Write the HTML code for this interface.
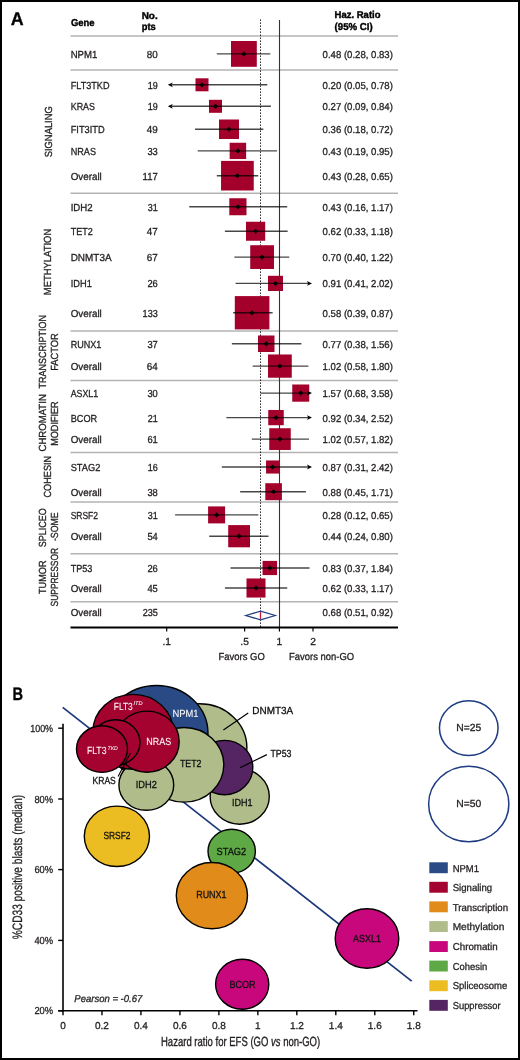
<!DOCTYPE html>
<html><head><meta charset="utf-8"><style>
html,body{margin:0;padding:0;background:#fff;}
body{width:520px;height:1060px;overflow:hidden;}
svg{display:block;font-family:"Liberation Sans", sans-serif;will-change:transform;text-rendering:geometricPrecision;}
</style></head><body>
<svg width="520" height="1060" viewBox="0 0 520 1060">
<rect x="0" y="0" width="520" height="1060" fill="#fff"/>
<text x="10.8" y="25.2" font-size="18.2" text-anchor="start" font-weight="bold" font-style="normal" fill="#000" stroke="#000" stroke-width="0.3" textLength="12.9" lengthAdjust="spacingAndGlyphs">A</text>
<text x="70.9" y="26.4" font-size="10.0" text-anchor="start" font-weight="bold" font-style="normal" fill="#000" stroke="#000" stroke-width="0.4" textLength="23.6" lengthAdjust="spacingAndGlyphs">Gene</text>
<text x="141.7" y="18.6" font-size="10.0" text-anchor="start" font-weight="bold" font-style="normal" fill="#000" stroke="#000" stroke-width="0.4" textLength="16" lengthAdjust="spacingAndGlyphs">No.</text>
<text x="141.7" y="30.1" font-size="10.0" text-anchor="start" font-weight="bold" font-style="normal" fill="#000" stroke="#000" stroke-width="0.4" textLength="14" lengthAdjust="spacingAndGlyphs">pts</text>
<text x="334.6" y="18.4" font-size="10.0" text-anchor="start" font-weight="bold" font-style="normal" fill="#000" stroke="#000" stroke-width="0.4" textLength="45.9" lengthAdjust="spacingAndGlyphs">Haz. Ratio</text>
<text x="334.6" y="29.9" font-size="10.0" text-anchor="start" font-weight="bold" font-style="normal" fill="#000" stroke="#000" stroke-width="0.4" textLength="38" lengthAdjust="spacingAndGlyphs">(95% CI)</text>
<line x1="70.5" y1="36" x2="398" y2="36" stroke="#b3b3b3" stroke-width="1.5"/>
<line x1="70.5" y1="70" x2="398" y2="70" stroke="#b3b3b3" stroke-width="1.5"/>
<line x1="70.5" y1="193.3" x2="398" y2="193.3" stroke="#b3b3b3" stroke-width="1.5"/>
<line x1="70.5" y1="331" x2="398" y2="331" stroke="#b3b3b3" stroke-width="1.5"/>
<line x1="70.5" y1="380.6" x2="398" y2="380.6" stroke="#b3b3b3" stroke-width="1.5"/>
<line x1="70.5" y1="452.4" x2="398" y2="452.4" stroke="#b3b3b3" stroke-width="1.5"/>
<line x1="70.5" y1="501.9" x2="398" y2="501.9" stroke="#b3b3b3" stroke-width="1.5"/>
<line x1="70.5" y1="553.8" x2="398" y2="553.8" stroke="#b3b3b3" stroke-width="1.5"/>
<line x1="70.5" y1="601.7" x2="398" y2="601.7" stroke="#b3b3b3" stroke-width="1.5"/>
<line x1="260.5" y1="19.5" x2="260.5" y2="627" stroke="#000" stroke-width="1" stroke-dasharray="1.3 1.7"/>
<line x1="279.5" y1="20" x2="279.5" y2="627" stroke="#333" stroke-width="1.1"/>
<text x="70.7" y="57.9" font-size="10.2" text-anchor="start" font-weight="normal" font-style="normal" fill="#231f20" stroke="#231f20" stroke-width="0.3" textLength="26.6" lengthAdjust="spacingAndGlyphs">NPM1</text>
<text x="157.8" y="57.9" font-size="10.2" text-anchor="end" font-weight="normal" font-style="normal" fill="#231f20" stroke="#231f20" stroke-width="0.3" textLength="11" lengthAdjust="spacingAndGlyphs">80</text>
<text x="322.6" y="57.9" font-size="10.0" text-anchor="start" font-weight="normal" font-style="normal" fill="#231f20" stroke="#231f20" stroke-width="0.3" textLength="70.3" lengthAdjust="spacingAndGlyphs">0.48 (0.28, 0.83)</text>
<text x="70.7" y="88.8" font-size="10.2" text-anchor="start" font-weight="normal" font-style="normal" fill="#231f20" stroke="#231f20" stroke-width="0.3" textLength="38.8" lengthAdjust="spacingAndGlyphs">FLT3TKD</text>
<text x="157.8" y="88.8" font-size="10.2" text-anchor="end" font-weight="normal" font-style="normal" fill="#231f20" stroke="#231f20" stroke-width="0.3" textLength="10" lengthAdjust="spacingAndGlyphs">19</text>
<text x="322.6" y="88.8" font-size="10.0" text-anchor="start" font-weight="normal" font-style="normal" fill="#231f20" stroke="#231f20" stroke-width="0.3" textLength="70.3" lengthAdjust="spacingAndGlyphs">0.20 (0.05, 0.78)</text>
<text x="70.7" y="110.3" font-size="10.2" text-anchor="start" font-weight="normal" font-style="normal" fill="#231f20" stroke="#231f20" stroke-width="0.3" textLength="24.3" lengthAdjust="spacingAndGlyphs">KRAS</text>
<text x="157.8" y="110.3" font-size="10.2" text-anchor="end" font-weight="normal" font-style="normal" fill="#231f20" stroke="#231f20" stroke-width="0.3" textLength="10" lengthAdjust="spacingAndGlyphs">19</text>
<text x="322.6" y="110.3" font-size="10.0" text-anchor="start" font-weight="normal" font-style="normal" fill="#231f20" stroke="#231f20" stroke-width="0.3" textLength="70.3" lengthAdjust="spacingAndGlyphs">0.27 (0.09, 0.84)</text>
<text x="70.7" y="133.25" font-size="10.2" text-anchor="start" font-weight="normal" font-style="normal" fill="#231f20" stroke="#231f20" stroke-width="0.3" textLength="33.949999999999996" lengthAdjust="spacingAndGlyphs">FIT3ITD</text>
<text x="157.8" y="133.25" font-size="10.2" text-anchor="end" font-weight="normal" font-style="normal" fill="#231f20" stroke="#231f20" stroke-width="0.3" textLength="11" lengthAdjust="spacingAndGlyphs">49</text>
<text x="322.6" y="133.25" font-size="10.0" text-anchor="start" font-weight="normal" font-style="normal" fill="#231f20" stroke="#231f20" stroke-width="0.3" textLength="70.3" lengthAdjust="spacingAndGlyphs">0.36 (0.18, 0.72)</text>
<text x="70.7" y="154.9" font-size="10.2" text-anchor="start" font-weight="normal" font-style="normal" fill="#231f20" stroke="#231f20" stroke-width="0.3" textLength="25.3" lengthAdjust="spacingAndGlyphs">NRAS</text>
<text x="157.8" y="154.9" font-size="10.2" text-anchor="end" font-weight="normal" font-style="normal" fill="#231f20" stroke="#231f20" stroke-width="0.3" textLength="10.4" lengthAdjust="spacingAndGlyphs">33</text>
<text x="322.6" y="154.9" font-size="10.0" text-anchor="start" font-weight="normal" font-style="normal" fill="#231f20" stroke="#231f20" stroke-width="0.3" textLength="70.3" lengthAdjust="spacingAndGlyphs">0.43 (0.19, 0.95)</text>
<text x="70.7" y="179.7" font-size="10.2" text-anchor="start" font-weight="normal" font-style="normal" fill="#231f20" stroke="#231f20" stroke-width="0.3" textLength="31.1" lengthAdjust="spacingAndGlyphs">Overall</text>
<text x="157.8" y="179.7" font-size="10.2" text-anchor="end" font-weight="normal" font-style="normal" fill="#231f20" stroke="#231f20" stroke-width="0.3" textLength="15.2" lengthAdjust="spacingAndGlyphs">117</text>
<text x="322.6" y="179.7" font-size="10.0" text-anchor="start" font-weight="normal" font-style="normal" fill="#231f20" stroke="#231f20" stroke-width="0.3" textLength="70.3" lengthAdjust="spacingAndGlyphs">0.43 (0.28, 0.65)</text>
<text x="70.7" y="210.75" font-size="10.2" text-anchor="start" font-weight="normal" font-style="normal" fill="#231f20" stroke="#231f20" stroke-width="0.3" textLength="22.0" lengthAdjust="spacingAndGlyphs">IDH2</text>
<text x="157.8" y="210.75" font-size="10.2" text-anchor="end" font-weight="normal" font-style="normal" fill="#231f20" stroke="#231f20" stroke-width="0.3" textLength="10" lengthAdjust="spacingAndGlyphs">31</text>
<text x="322.6" y="210.75" font-size="10.0" text-anchor="start" font-weight="normal" font-style="normal" fill="#231f20" stroke="#231f20" stroke-width="0.3" textLength="70.3" lengthAdjust="spacingAndGlyphs">0.43 (0.16, 1.17)</text>
<text x="70.7" y="235.25" font-size="10.2" text-anchor="start" font-weight="normal" font-style="normal" fill="#231f20" stroke="#231f20" stroke-width="0.3" textLength="22.0" lengthAdjust="spacingAndGlyphs">TET2</text>
<text x="157.8" y="235.25" font-size="10.2" text-anchor="end" font-weight="normal" font-style="normal" fill="#231f20" stroke="#231f20" stroke-width="0.3" textLength="11" lengthAdjust="spacingAndGlyphs">47</text>
<text x="322.6" y="235.25" font-size="10.0" text-anchor="start" font-weight="normal" font-style="normal" fill="#231f20" stroke="#231f20" stroke-width="0.3" textLength="70.3" lengthAdjust="spacingAndGlyphs">0.62 (0.33, 1.18)</text>
<text x="70.7" y="261.1" font-size="10.2" text-anchor="start" font-weight="normal" font-style="normal" fill="#231f20" stroke="#231f20" stroke-width="0.3" textLength="40.9" lengthAdjust="spacingAndGlyphs">DNMT3A</text>
<text x="157.8" y="261.1" font-size="10.2" text-anchor="end" font-weight="normal" font-style="normal" fill="#231f20" stroke="#231f20" stroke-width="0.3" textLength="11" lengthAdjust="spacingAndGlyphs">67</text>
<text x="322.6" y="261.1" font-size="10.0" text-anchor="start" font-weight="normal" font-style="normal" fill="#231f20" stroke="#231f20" stroke-width="0.3" textLength="70.3" lengthAdjust="spacingAndGlyphs">0.70 (0.40, 1.22)</text>
<text x="70.7" y="287.4" font-size="10.2" text-anchor="start" font-weight="normal" font-style="normal" fill="#231f20" stroke="#231f20" stroke-width="0.3" textLength="21.1" lengthAdjust="spacingAndGlyphs">IDH1</text>
<text x="157.8" y="287.4" font-size="10.2" text-anchor="end" font-weight="normal" font-style="normal" fill="#231f20" stroke="#231f20" stroke-width="0.3" textLength="10.4" lengthAdjust="spacingAndGlyphs">26</text>
<text x="322.6" y="287.4" font-size="10.0" text-anchor="start" font-weight="normal" font-style="normal" fill="#231f20" stroke="#231f20" stroke-width="0.3" textLength="70.3" lengthAdjust="spacingAndGlyphs">0.91 (0.41, 2.02)</text>
<text x="70.7" y="316.75" font-size="10.2" text-anchor="start" font-weight="normal" font-style="normal" fill="#231f20" stroke="#231f20" stroke-width="0.3" textLength="31.1" lengthAdjust="spacingAndGlyphs">Overall</text>
<text x="157.8" y="316.75" font-size="10.2" text-anchor="end" font-weight="normal" font-style="normal" fill="#231f20" stroke="#231f20" stroke-width="0.3" textLength="15.2" lengthAdjust="spacingAndGlyphs">133</text>
<text x="322.6" y="316.75" font-size="10.0" text-anchor="start" font-weight="normal" font-style="normal" fill="#231f20" stroke="#231f20" stroke-width="0.3" textLength="70.3" lengthAdjust="spacingAndGlyphs">0.58 (0.39, 0.87)</text>
<text x="70.7" y="347.75" font-size="10.2" text-anchor="start" font-weight="normal" font-style="normal" fill="#231f20" stroke="#231f20" stroke-width="0.3" textLength="30.7" lengthAdjust="spacingAndGlyphs">RUNX1</text>
<text x="157.8" y="347.75" font-size="10.2" text-anchor="end" font-weight="normal" font-style="normal" fill="#231f20" stroke="#231f20" stroke-width="0.3" textLength="10.4" lengthAdjust="spacingAndGlyphs">37</text>
<text x="322.6" y="347.75" font-size="10.0" text-anchor="start" font-weight="normal" font-style="normal" fill="#231f20" stroke="#231f20" stroke-width="0.3" textLength="70.3" lengthAdjust="spacingAndGlyphs">0.77 (0.38, 1.56)</text>
<text x="70.7" y="370.1" font-size="10.2" text-anchor="start" font-weight="normal" font-style="normal" fill="#231f20" stroke="#231f20" stroke-width="0.3" textLength="31.1" lengthAdjust="spacingAndGlyphs">Overall</text>
<text x="157.8" y="370.1" font-size="10.2" text-anchor="end" font-weight="normal" font-style="normal" fill="#231f20" stroke="#231f20" stroke-width="0.3" textLength="11" lengthAdjust="spacingAndGlyphs">64</text>
<text x="322.6" y="370.1" font-size="10.0" text-anchor="start" font-weight="normal" font-style="normal" fill="#231f20" stroke="#231f20" stroke-width="0.3" textLength="70.3" lengthAdjust="spacingAndGlyphs">1.02 (0.58, 1.80)</text>
<text x="70.7" y="397.1" font-size="10.2" text-anchor="start" font-weight="normal" font-style="normal" fill="#231f20" stroke="#231f20" stroke-width="0.3" textLength="27.400000000000002" lengthAdjust="spacingAndGlyphs">ASXL1</text>
<text x="157.8" y="397.1" font-size="10.2" text-anchor="end" font-weight="normal" font-style="normal" fill="#231f20" stroke="#231f20" stroke-width="0.3" textLength="10.4" lengthAdjust="spacingAndGlyphs">30</text>
<text x="322.6" y="397.1" font-size="10.0" text-anchor="start" font-weight="normal" font-style="normal" fill="#231f20" stroke="#231f20" stroke-width="0.3" textLength="70.3" lengthAdjust="spacingAndGlyphs">1.57 (0.68, 3.58)</text>
<text x="70.7" y="421.6" font-size="10.2" text-anchor="start" font-weight="normal" font-style="normal" fill="#231f20" stroke="#231f20" stroke-width="0.3" textLength="26.5" lengthAdjust="spacingAndGlyphs">BCOR</text>
<text x="157.8" y="421.6" font-size="10.2" text-anchor="end" font-weight="normal" font-style="normal" fill="#231f20" stroke="#231f20" stroke-width="0.3" textLength="10" lengthAdjust="spacingAndGlyphs">21</text>
<text x="322.6" y="421.6" font-size="10.0" text-anchor="start" font-weight="normal" font-style="normal" fill="#231f20" stroke="#231f20" stroke-width="0.3" textLength="70.3" lengthAdjust="spacingAndGlyphs">0.92 (0.34, 2.52)</text>
<text x="70.7" y="443.1" font-size="10.2" text-anchor="start" font-weight="normal" font-style="normal" fill="#231f20" stroke="#231f20" stroke-width="0.3" textLength="31.1" lengthAdjust="spacingAndGlyphs">Overall</text>
<text x="157.8" y="443.1" font-size="10.2" text-anchor="end" font-weight="normal" font-style="normal" fill="#231f20" stroke="#231f20" stroke-width="0.3" textLength="10.4" lengthAdjust="spacingAndGlyphs">61</text>
<text x="322.6" y="443.1" font-size="10.0" text-anchor="start" font-weight="normal" font-style="normal" fill="#231f20" stroke="#231f20" stroke-width="0.3" textLength="70.3" lengthAdjust="spacingAndGlyphs">1.02 (0.57, 1.82)</text>
<text x="70.7" y="471.0" font-size="10.2" text-anchor="start" font-weight="normal" font-style="normal" fill="#231f20" stroke="#231f20" stroke-width="0.3" textLength="29.7" lengthAdjust="spacingAndGlyphs">STAG2</text>
<text x="157.8" y="471.0" font-size="10.2" text-anchor="end" font-weight="normal" font-style="normal" fill="#231f20" stroke="#231f20" stroke-width="0.3" textLength="10" lengthAdjust="spacingAndGlyphs">16</text>
<text x="322.6" y="471.0" font-size="10.0" text-anchor="start" font-weight="normal" font-style="normal" fill="#231f20" stroke="#231f20" stroke-width="0.3" textLength="70.3" lengthAdjust="spacingAndGlyphs">0.87 (0.31, 2.42)</text>
<text x="70.7" y="495.7" font-size="10.2" text-anchor="start" font-weight="normal" font-style="normal" fill="#231f20" stroke="#231f20" stroke-width="0.3" textLength="31.1" lengthAdjust="spacingAndGlyphs">Overall</text>
<text x="157.8" y="495.7" font-size="10.2" text-anchor="end" font-weight="normal" font-style="normal" fill="#231f20" stroke="#231f20" stroke-width="0.3" textLength="10.4" lengthAdjust="spacingAndGlyphs">38</text>
<text x="322.6" y="495.7" font-size="10.0" text-anchor="start" font-weight="normal" font-style="normal" fill="#231f20" stroke="#231f20" stroke-width="0.3" textLength="70.3" lengthAdjust="spacingAndGlyphs">0.88 (0.45, 1.71)</text>
<text x="70.7" y="518.9" font-size="10.2" text-anchor="start" font-weight="normal" font-style="normal" fill="#231f20" stroke="#231f20" stroke-width="0.3" textLength="27.3" lengthAdjust="spacingAndGlyphs">SRSF2</text>
<text x="157.8" y="518.9" font-size="10.2" text-anchor="end" font-weight="normal" font-style="normal" fill="#231f20" stroke="#231f20" stroke-width="0.3" textLength="10" lengthAdjust="spacingAndGlyphs">31</text>
<text x="322.6" y="518.9" font-size="10.0" text-anchor="start" font-weight="normal" font-style="normal" fill="#231f20" stroke="#231f20" stroke-width="0.3" textLength="70.3" lengthAdjust="spacingAndGlyphs">0.28 (0.12, 0.65)</text>
<text x="70.7" y="540.2" font-size="10.2" text-anchor="start" font-weight="normal" font-style="normal" fill="#231f20" stroke="#231f20" stroke-width="0.3" textLength="31.1" lengthAdjust="spacingAndGlyphs">Overall</text>
<text x="157.8" y="540.2" font-size="10.2" text-anchor="end" font-weight="normal" font-style="normal" fill="#231f20" stroke="#231f20" stroke-width="0.3" textLength="10.4" lengthAdjust="spacingAndGlyphs">54</text>
<text x="322.6" y="540.2" font-size="10.0" text-anchor="start" font-weight="normal" font-style="normal" fill="#231f20" stroke="#231f20" stroke-width="0.3" textLength="70.3" lengthAdjust="spacingAndGlyphs">0.44 (0.24, 0.80)</text>
<text x="70.7" y="572.0" font-size="10.2" text-anchor="start" font-weight="normal" font-style="normal" fill="#231f20" stroke="#231f20" stroke-width="0.3" textLength="21.6" lengthAdjust="spacingAndGlyphs">TP53</text>
<text x="157.8" y="572.0" font-size="10.2" text-anchor="end" font-weight="normal" font-style="normal" fill="#231f20" stroke="#231f20" stroke-width="0.3" textLength="10.4" lengthAdjust="spacingAndGlyphs">26</text>
<text x="322.6" y="572.0" font-size="10.0" text-anchor="start" font-weight="normal" font-style="normal" fill="#231f20" stroke="#231f20" stroke-width="0.3" textLength="70.3" lengthAdjust="spacingAndGlyphs">0.83 (0.37, 1.84)</text>
<text x="70.7" y="592.0" font-size="10.2" text-anchor="start" font-weight="normal" font-style="normal" fill="#231f20" stroke="#231f20" stroke-width="0.3" textLength="31.1" lengthAdjust="spacingAndGlyphs">Overall</text>
<text x="157.8" y="592.0" font-size="10.2" text-anchor="end" font-weight="normal" font-style="normal" fill="#231f20" stroke="#231f20" stroke-width="0.3" textLength="10.4" lengthAdjust="spacingAndGlyphs">45</text>
<text x="322.6" y="592.0" font-size="10.0" text-anchor="start" font-weight="normal" font-style="normal" fill="#231f20" stroke="#231f20" stroke-width="0.3" textLength="70.3" lengthAdjust="spacingAndGlyphs">0.62 (0.33, 1.17)</text>
<rect x="231.00" y="41.00" width="25.8" height="25.8" fill="#a3002b"/>
<rect x="195.50" y="78.30" width="13" height="13" fill="#a3002b"/>
<rect x="209.00" y="99.80" width="13" height="13" fill="#a3002b"/>
<rect x="219.00" y="119.50" width="20" height="19.5" fill="#a3002b"/>
<rect x="229.65" y="142.75" width="16.5" height="16.3" fill="#a3002b"/>
<rect x="221.05" y="160.90" width="32.7" height="29.6" fill="#a3002b"/>
<rect x="229.30" y="198.25" width="17.2" height="17" fill="#a3002b"/>
<rect x="246.00" y="221.75" width="19.2" height="19" fill="#a3002b"/>
<rect x="250.23" y="245.23" width="23.75" height="23.75" fill="#a3002b"/>
<rect x="268.00" y="275.80" width="15" height="15.2" fill="#a3002b"/>
<rect x="234.80" y="296.10" width="34.6" height="33.3" fill="#a3002b"/>
<rect x="258.00" y="335.50" width="16.5" height="16.5" fill="#a3002b"/>
<rect x="268.02" y="354.48" width="23.75" height="23.25" fill="#a3002b"/>
<rect x="292.25" y="384.50" width="17" height="17.2" fill="#a3002b"/>
<rect x="268.25" y="409.98" width="15.5" height="15.25" fill="#a3002b"/>
<rect x="269.25" y="428.23" width="21.5" height="21.75" fill="#a3002b"/>
<rect x="266.05" y="460.45" width="13.1" height="13.1" fill="#a3002b"/>
<rect x="265.30" y="483.20" width="16.6" height="17" fill="#a3002b"/>
<rect x="208.10" y="506.40" width="17" height="17" fill="#a3002b"/>
<rect x="228.20" y="525.10" width="21.8" height="22.2" fill="#a3002b"/>
<rect x="262.55" y="560.90" width="14.5" height="14.2" fill="#a3002b"/>
<rect x="246.50" y="578.45" width="19" height="19.1" fill="#a3002b"/>
<line x1="216.81" y1="53.9" x2="270.32" y2="53.9" stroke="#000" stroke-opacity="0.72" stroke-width="1.4"/>
<path d="M241.40,53.9 L243.90,51.3 L246.40,53.9 L243.90,56.5 Z" fill="#000"/>
<line x1="171.80" y1="84.8" x2="267.26" y2="84.8" stroke="#000" stroke-opacity="0.72" stroke-width="1.4"/>
<path d="M167.8,84.8 L172.8,82.39999999999999 L171.60000000000002,84.8 L172.8,87.2 Z" fill="#000"/>
<path d="M199.50,84.8 L202.00,82.2 L204.50,84.8 L202.00,87.39999999999999 Z" fill="#000"/>
<line x1="171.80" y1="106.3" x2="270.91" y2="106.3" stroke="#000" stroke-opacity="0.72" stroke-width="1.4"/>
<path d="M167.8,106.3 L172.8,103.89999999999999 L171.60000000000002,106.3 L172.8,108.7 Z" fill="#000"/>
<path d="M213.00,106.3 L215.50,103.7 L218.00,106.3 L215.50,108.89999999999999 Z" fill="#000"/>
<line x1="195.05" y1="129.25" x2="263.32" y2="129.25" stroke="#000" stroke-opacity="0.72" stroke-width="1.4"/>
<path d="M226.50,129.25 L229.00,126.65 L231.50,129.25 L229.00,131.85 Z" fill="#000"/>
<line x1="197.71" y1="150.9" x2="276.97" y2="150.9" stroke="#000" stroke-opacity="0.72" stroke-width="1.4"/>
<path d="M235.40,150.9 L237.90,148.3 L240.40,150.9 L237.90,153.5 Z" fill="#000"/>
<line x1="216.81" y1="175.7" x2="258.28" y2="175.7" stroke="#000" stroke-opacity="0.72" stroke-width="1.4"/>
<path d="M234.90,175.7 L237.40,173.1 L239.90,175.7 L237.40,178.29999999999998 Z" fill="#000"/>
<line x1="189.25" y1="206.75" x2="287.23" y2="206.75" stroke="#000" stroke-opacity="0.72" stroke-width="1.4"/>
<path d="M235.40,206.75 L237.90,204.15 L240.40,206.75 L237.90,209.35 Z" fill="#000"/>
<line x1="224.90" y1="231.25" x2="287.65" y2="231.25" stroke="#000" stroke-opacity="0.72" stroke-width="1.4"/>
<path d="M253.10,231.25 L255.60,228.65 L258.10,231.25 L255.60,233.85 Z" fill="#000"/>
<line x1="234.37" y1="257.1" x2="289.29" y2="257.1" stroke="#000" stroke-opacity="0.72" stroke-width="1.4"/>
<path d="M259.60,257.1 L262.10,254.50000000000003 L264.60,257.1 L262.10,259.70000000000005 Z" fill="#000"/>
<line x1="235.59" y1="283.4" x2="308.00" y2="283.4" stroke="#000" stroke-opacity="0.72" stroke-width="1.4"/>
<path d="M312.0,283.4 L307.0,281.0 L308.2,283.4 L307.0,285.79999999999995 Z" fill="#000"/>
<path d="M273.00,283.4 L275.50,280.79999999999995 L278.00,283.4 L275.50,286.0 Z" fill="#000"/>
<line x1="233.13" y1="312.75" x2="272.64" y2="312.75" stroke="#000" stroke-opacity="0.72" stroke-width="1.4"/>
<path d="M249.60,312.75 L252.10,310.15 L254.60,312.75 L252.10,315.35 Z" fill="#000"/>
<line x1="231.85" y1="343.75" x2="301.40" y2="343.75" stroke="#000" stroke-opacity="0.72" stroke-width="1.4"/>
<path d="M263.75,343.75 L266.25,341.15 L268.75,343.75 L266.25,346.35 Z" fill="#000"/>
<line x1="252.67" y1="366.1" x2="308.45" y2="366.1" stroke="#000" stroke-opacity="0.72" stroke-width="1.4"/>
<path d="M277.40,366.1 L279.90,363.5 L282.40,366.1 L279.90,368.70000000000005 Z" fill="#000"/>
<line x1="260.51" y1="393.1" x2="308.00" y2="393.1" stroke="#000" stroke-opacity="0.72" stroke-width="1.4"/>
<path d="M312.0,393.1 L307.0,390.70000000000005 L308.2,393.1 L307.0,395.5 Z" fill="#000"/>
<path d="M298.25,393.1 L300.75,390.5 L303.25,393.1 L300.75,395.70000000000005 Z" fill="#000"/>
<line x1="226.37" y1="417.6" x2="308.00" y2="417.6" stroke="#000" stroke-opacity="0.72" stroke-width="1.4"/>
<path d="M312.0,417.6 L307.0,415.20000000000005 L308.2,417.6 L307.0,420.0 Z" fill="#000"/>
<path d="M273.50,417.6 L276.00,415.0 L278.50,417.6 L276.00,420.20000000000005 Z" fill="#000"/>
<line x1="251.82" y1="439.1" x2="308.99" y2="439.1" stroke="#000" stroke-opacity="0.72" stroke-width="1.4"/>
<path d="M277.50,439.1 L280.00,436.5 L282.50,439.1 L280.00,441.70000000000005 Z" fill="#000"/>
<line x1="221.82" y1="467" x2="308.00" y2="467" stroke="#000" stroke-opacity="0.72" stroke-width="1.4"/>
<path d="M312.0,467 L307.0,464.6 L308.2,467 L307.0,469.4 Z" fill="#000"/>
<path d="M270.10,467 L272.60,464.4 L275.10,467 L272.60,469.6 Z" fill="#000"/>
<line x1="240.17" y1="491.7" x2="305.92" y2="491.7" stroke="#000" stroke-opacity="0.72" stroke-width="1.4"/>
<path d="M271.10,491.7 L273.60,489.09999999999997 L276.10,491.7 L273.60,494.3 Z" fill="#000"/>
<line x1="175.08" y1="514.9" x2="258.28" y2="514.9" stroke="#000" stroke-opacity="0.72" stroke-width="1.4"/>
<path d="M214.10,514.9 L216.60,512.3 L219.10,514.9 L216.60,517.5 Z" fill="#000"/>
<line x1="209.22" y1="536.2" x2="268.51" y2="536.2" stroke="#000" stroke-opacity="0.72" stroke-width="1.4"/>
<path d="M236.60,536.2 L239.10,533.6 L241.60,536.2 L239.10,538.8000000000001 Z" fill="#000"/>
<line x1="230.53" y1="568" x2="309.53" y2="568" stroke="#000" stroke-opacity="0.72" stroke-width="1.4"/>
<path d="M267.30,568 L269.80,565.4 L272.30,568 L269.80,570.6 Z" fill="#000"/>
<line x1="224.90" y1="588" x2="287.23" y2="588" stroke="#000" stroke-opacity="0.72" stroke-width="1.4"/>
<path d="M253.50,588 L256.00,585.4 L258.50,588 L256.00,590.6 Z" fill="#000"/>
<text x="70.7" y="615.6" font-size="10.2" text-anchor="start" font-weight="normal" font-style="normal" fill="#231f20" stroke="#231f20" stroke-width="0.3" textLength="31.1" lengthAdjust="spacingAndGlyphs">Overall</text>
<text x="157.9" y="615.6" font-size="10.2" text-anchor="end" font-weight="normal" font-style="normal" fill="#231f20" stroke="#231f20" stroke-width="0.3" textLength="15.2" lengthAdjust="spacingAndGlyphs">235</text>
<text x="322.6" y="615.6" font-size="10.0" text-anchor="start" font-weight="normal" font-style="normal" fill="#231f20" stroke="#231f20" stroke-width="0.3" textLength="70.3" lengthAdjust="spacingAndGlyphs">0.68 (0.51, 0.92)</text>
<path d="M245.8,615.5 L260.5,611.2 L275.2,615.5 L260.5,619.8 Z" fill="#fff" stroke="#23417f" stroke-width="1.3"/>
<line x1="260.5" y1="612.1" x2="260.5" y2="619.0" stroke="#c8102e" stroke-width="1.2"/>
<line x1="70.5" y1="627.5" x2="398" y2="627.5" stroke="#000" stroke-width="2"/>
<line x1="166.7" y1="627.5" x2="166.7" y2="631.5" stroke="#000" stroke-width="1.2"/>
<text x="166.7" y="645.0" font-size="10.2" text-anchor="middle" font-weight="normal" font-style="normal" fill="#231f20" stroke="#231f20" stroke-width="0.3">.1</text>
<line x1="244.6" y1="627.5" x2="244.6" y2="631.5" stroke="#000" stroke-width="1.2"/>
<text x="244.6" y="645.0" font-size="10.2" text-anchor="middle" font-weight="normal" font-style="normal" fill="#231f20" stroke="#231f20" stroke-width="0.3">.5</text>
<line x1="279.4" y1="627.5" x2="279.4" y2="631.5" stroke="#000" stroke-width="1.2"/>
<text x="279.4" y="645.0" font-size="10.2" text-anchor="middle" font-weight="normal" font-style="normal" fill="#231f20" stroke="#231f20" stroke-width="0.3">1</text>
<line x1="313" y1="627.5" x2="313" y2="631.5" stroke="#000" stroke-width="1.2"/>
<text x="313" y="645.0" font-size="10.2" text-anchor="middle" font-weight="normal" font-style="normal" fill="#231f20" stroke="#231f20" stroke-width="0.3">2</text>
<text x="218.5" y="659.9" font-size="10.2" text-anchor="start" font-weight="normal" font-style="normal" fill="#231f20" stroke="#231f20" stroke-width="0.3" textLength="46.3" lengthAdjust="spacingAndGlyphs">Favors GO</text>
<text x="289.1" y="659.9" font-size="10.2" text-anchor="start" font-weight="normal" font-style="normal" fill="#231f20" stroke="#231f20" stroke-width="0.3" textLength="65.1" lengthAdjust="spacingAndGlyphs">Favors non-GO</text>
<text transform="translate(51.5,131.75) rotate(-90)" x="0" y="0" font-size="10.3" text-anchor="middle" fill="#231f20" stroke="#231f20" stroke-width="0.3" textLength="51.1" lengthAdjust="spacingAndGlyphs">SIGNALING</text>
<text transform="translate(51.35,262.0) rotate(-90)" x="0" y="0" font-size="10.3" text-anchor="middle" fill="#231f20" stroke="#231f20" stroke-width="0.3" textLength="66.4" lengthAdjust="spacingAndGlyphs">METHYLATION</text>
<text transform="translate(46.4,351.75) rotate(-90)" x="0" y="0" font-size="10.3" text-anchor="middle" fill="#231f20" stroke="#231f20" stroke-width="0.3" textLength="73.5" lengthAdjust="spacingAndGlyphs">TRANSCRIPTION</text>
<text transform="translate(58.4,352.05) rotate(-90)" x="0" y="0" font-size="10.3" text-anchor="middle" fill="#231f20" stroke="#231f20" stroke-width="0.3" textLength="37.5" lengthAdjust="spacingAndGlyphs">FACTOR</text>
<text transform="translate(46.4,422.85) rotate(-90)" x="0" y="0" font-size="10.3" text-anchor="middle" fill="#231f20" stroke="#231f20" stroke-width="0.3" textLength="57.3" lengthAdjust="spacingAndGlyphs">CHROMATIN</text>
<text transform="translate(58.4,423.55) rotate(-90)" x="0" y="0" font-size="10.3" text-anchor="middle" fill="#231f20" stroke="#231f20" stroke-width="0.3" textLength="44.5" lengthAdjust="spacingAndGlyphs">MODIFIER</text>
<text transform="translate(51.1,476.7) rotate(-90)" x="0" y="0" font-size="10.3" text-anchor="middle" fill="#231f20" stroke="#231f20" stroke-width="0.3" textLength="41.6" lengthAdjust="spacingAndGlyphs">COHESIN</text>
<text transform="translate(46.4,527.85) rotate(-90)" x="0" y="0" font-size="10.3" text-anchor="middle" fill="#231f20" stroke="#231f20" stroke-width="0.3" textLength="38.9" lengthAdjust="spacingAndGlyphs">SPLICEO</text>
<text transform="translate(58.1,526.7) rotate(-90)" x="0" y="0" font-size="10.3" text-anchor="middle" fill="#231f20" stroke="#231f20" stroke-width="0.3" textLength="28.8" lengthAdjust="spacingAndGlyphs">-SOME</text>
<text transform="translate(46.4,577.25) rotate(-90)" x="0" y="0" font-size="10.3" text-anchor="middle" fill="#231f20" stroke="#231f20" stroke-width="0.3" textLength="33.5" lengthAdjust="spacingAndGlyphs">TUMOR</text>
<text transform="translate(58.1,577.2) rotate(-90)" x="0" y="0" font-size="10.3" text-anchor="middle" fill="#231f20" stroke="#231f20" stroke-width="0.3" textLength="58.4" lengthAdjust="spacingAndGlyphs">SUPPRESSOR</text>
<text x="12.4" y="699.8" font-size="18.0" text-anchor="start" font-weight="bold" font-style="normal" fill="#000" stroke="#000" stroke-width="0.3" textLength="10.6" lengthAdjust="spacingAndGlyphs">B</text>
<line x1="58.2" y1="728.2" x2="63" y2="728.2" stroke="#000" stroke-width="1.4"/>
<text x="53.1" y="731.8" font-size="10.2" text-anchor="end" font-weight="normal" font-style="normal" fill="#231f20" stroke="#231f20" stroke-width="0.3" textLength="22.9" lengthAdjust="spacingAndGlyphs">100%</text>
<line x1="58.2" y1="799.0" x2="63" y2="799.0" stroke="#000" stroke-width="1.4"/>
<text x="53.1" y="802.6" font-size="10.2" text-anchor="end" font-weight="normal" font-style="normal" fill="#231f20" stroke="#231f20" stroke-width="0.3" textLength="18.7" lengthAdjust="spacingAndGlyphs">80%</text>
<line x1="58.2" y1="869.6" x2="63" y2="869.6" stroke="#000" stroke-width="1.4"/>
<text x="53.1" y="873.2" font-size="10.2" text-anchor="end" font-weight="normal" font-style="normal" fill="#231f20" stroke="#231f20" stroke-width="0.3" textLength="18.7" lengthAdjust="spacingAndGlyphs">60%</text>
<line x1="58.2" y1="940.4" x2="63" y2="940.4" stroke="#000" stroke-width="1.4"/>
<text x="53.1" y="944.0" font-size="10.2" text-anchor="end" font-weight="normal" font-style="normal" fill="#231f20" stroke="#231f20" stroke-width="0.3" textLength="18.7" lengthAdjust="spacingAndGlyphs">40%</text>
<line x1="58.2" y1="1010.8" x2="63" y2="1010.8" stroke="#000" stroke-width="1.4"/>
<text x="53.1" y="1014.4" font-size="10.2" text-anchor="end" font-weight="normal" font-style="normal" fill="#231f20" stroke="#231f20" stroke-width="0.3" textLength="18.7" lengthAdjust="spacingAndGlyphs">20%</text>
<line x1="63.00" y1="1010.8" x2="63.00" y2="1015.2" stroke="#000" stroke-width="1.4"/>
<text x="63.0" y="1029.2" font-size="10.0" text-anchor="middle" font-weight="normal" font-style="normal" fill="#231f20" stroke="#231f20" stroke-width="0.3">0</text>
<line x1="101.97" y1="1010.8" x2="101.97" y2="1015.2" stroke="#000" stroke-width="1.4"/>
<text x="101.97" y="1029.2" font-size="10.0" text-anchor="middle" font-weight="normal" font-style="normal" fill="#231f20" stroke="#231f20" stroke-width="0.3">0.2</text>
<line x1="140.94" y1="1010.8" x2="140.94" y2="1015.2" stroke="#000" stroke-width="1.4"/>
<text x="140.94" y="1029.2" font-size="10.0" text-anchor="middle" font-weight="normal" font-style="normal" fill="#231f20" stroke="#231f20" stroke-width="0.3">0.4</text>
<line x1="179.92" y1="1010.8" x2="179.92" y2="1015.2" stroke="#000" stroke-width="1.4"/>
<text x="179.92" y="1029.2" font-size="10.0" text-anchor="middle" font-weight="normal" font-style="normal" fill="#231f20" stroke="#231f20" stroke-width="0.3">0.6</text>
<line x1="218.89" y1="1010.8" x2="218.89" y2="1015.2" stroke="#000" stroke-width="1.4"/>
<text x="218.89" y="1029.2" font-size="10.0" text-anchor="middle" font-weight="normal" font-style="normal" fill="#231f20" stroke="#231f20" stroke-width="0.3">0.8</text>
<line x1="257.86" y1="1010.8" x2="257.86" y2="1015.2" stroke="#000" stroke-width="1.4"/>
<text x="257.86" y="1029.2" font-size="10.0" text-anchor="middle" font-weight="normal" font-style="normal" fill="#231f20" stroke="#231f20" stroke-width="0.3">1</text>
<line x1="296.83" y1="1010.8" x2="296.83" y2="1015.2" stroke="#000" stroke-width="1.4"/>
<text x="296.83" y="1029.2" font-size="10.0" text-anchor="middle" font-weight="normal" font-style="normal" fill="#231f20" stroke="#231f20" stroke-width="0.3">1.2</text>
<line x1="335.80" y1="1010.8" x2="335.80" y2="1015.2" stroke="#000" stroke-width="1.4"/>
<text x="335.8" y="1029.2" font-size="10.0" text-anchor="middle" font-weight="normal" font-style="normal" fill="#231f20" stroke="#231f20" stroke-width="0.3">1.4</text>
<line x1="374.78" y1="1010.8" x2="374.78" y2="1015.2" stroke="#000" stroke-width="1.4"/>
<text x="374.78" y="1029.2" font-size="10.0" text-anchor="middle" font-weight="normal" font-style="normal" fill="#231f20" stroke="#231f20" stroke-width="0.3">1.6</text>
<line x1="413.75" y1="1010.8" x2="413.75" y2="1015.2" stroke="#000" stroke-width="1.4"/>
<text x="413.75" y="1029.2" font-size="10.0" text-anchor="middle" font-weight="normal" font-style="normal" fill="#231f20" stroke="#231f20" stroke-width="0.3">1.8</text>
<line x1="62.7" y1="707.3" x2="411.7" y2="981.2" stroke="#1b387a" stroke-width="1.7"/>
<ellipse cx="199.5" cy="747.8" rx="47.4" ry="44.0" fill="#b0bd8b" stroke="#000" stroke-width="1.4"/>
<ellipse cx="156.5" cy="733.4" rx="51.5" ry="47.9" fill="#294a85" stroke="#000" stroke-width="1.4"/>
<ellipse cx="239.7" cy="796.5" rx="29.6" ry="27.7" fill="#b0bd8b" stroke="#000" stroke-width="1.4"/>
<ellipse cx="224.5" cy="767.6" rx="28.3" ry="27.2" fill="#552463" stroke="#000" stroke-width="1.4"/>
<ellipse cx="184.0" cy="764.8" rx="39.8" ry="37.3" fill="#b0bd8b" stroke="#000" stroke-width="1.4"/>
<ellipse cx="146.3" cy="785.0" rx="27.4" ry="25.3" fill="#b0bd8b" stroke="#000" stroke-width="1.4"/>
<ellipse cx="133.1" cy="731.8" rx="40.2" ry="37.4" fill="#a3032e" stroke="#000" stroke-width="1.4"/>
<ellipse cx="147.0" cy="741.7" rx="32.2" ry="30.6" fill="#a3032e" stroke="#000" stroke-width="1.4"/>
<ellipse cx="115.6" cy="742.5" rx="24.4" ry="22.7" fill="#a3032e" stroke="#000" stroke-width="1.4"/>
<ellipse cx="102.0" cy="749.1" rx="25.5" ry="23.3" fill="#a3032e" stroke="#000" stroke-width="1.4"/>
<ellipse cx="116.9" cy="836.3" rx="32.6" ry="30.2" fill="#ebbd22" stroke="#000" stroke-width="1.4"/>
<ellipse cx="231.7" cy="851.2" rx="23.7" ry="22.0" fill="#5ea845" stroke="#000" stroke-width="1.4"/>
<ellipse cx="211.9" cy="895.6" rx="35.6" ry="33.1" fill="#e08b1a" stroke="#000" stroke-width="1.4"/>
<ellipse cx="367.0" cy="938.5" rx="31.8" ry="29.8" fill="#c7077b" stroke="#000" stroke-width="1.4"/>
<ellipse cx="242.2" cy="984.2" rx="26.6" ry="25.0" fill="#c7077b" stroke="#000" stroke-width="1.4"/>
<line x1="223.4" y1="730" x2="248.2" y2="713.1" stroke="#000" stroke-width="1.2"/>
<line x1="240" y1="767.7" x2="266.9" y2="754.6" stroke="#000" stroke-width="1.2"/>
<line x1="118.1" y1="776.5" x2="130.5" y2="752.9" stroke="#000" stroke-width="1.1"/>
<text x="113.8" y="709.6" font-size="10.3" text-anchor="start" font-weight="normal" font-style="normal" fill="#fafafa" stroke="#fafafa" stroke-width="0.1" textLength="18.9" lengthAdjust="spacingAndGlyphs">FLT3</text>
<text x="133.5" y="705.4" font-size="5.4" text-anchor="start" font-weight="normal" font-style="italic" fill="#fafafa" stroke="#fafafa" stroke-width="0.05" textLength="9.2" lengthAdjust="spacingAndGlyphs">ITD</text>
<text x="172.5" y="717.3" font-size="10.3" text-anchor="start" font-weight="normal" font-style="normal" fill="#fafafa" stroke="#fafafa" stroke-width="0.1" textLength="26" lengthAdjust="spacingAndGlyphs">NPM1</text>
<text x="146.2" y="744.8" font-size="10.3" text-anchor="start" font-weight="normal" font-style="normal" fill="#fafafa" stroke="#fafafa" stroke-width="0.1" textLength="25" lengthAdjust="spacingAndGlyphs">NRAS</text>
<text x="86.9" y="753.5" font-size="10.3" text-anchor="start" font-weight="normal" font-style="normal" fill="#fafafa" stroke="#fafafa" stroke-width="0.1" textLength="19.6" lengthAdjust="spacingAndGlyphs">FLT3</text>
<text x="107.5" y="750.2" font-size="5.4" text-anchor="start" font-weight="normal" font-style="italic" fill="#fafafa" stroke="#fafafa" stroke-width="0.05" textLength="10.3" lengthAdjust="spacingAndGlyphs">TKD</text>
<text x="92.5" y="784.4" font-size="10.3" text-anchor="start" font-weight="normal" font-style="normal" fill="#111" stroke="#111" stroke-width="0.3" textLength="23.3" lengthAdjust="spacingAndGlyphs">KRAS</text>
<text x="180" y="767.2" font-size="10.3" text-anchor="start" font-weight="normal" font-style="normal" fill="#111" stroke="#111" stroke-width="0.3" textLength="21.5" lengthAdjust="spacingAndGlyphs">TET2</text>
<text x="135.8" y="788.2" font-size="10.3" text-anchor="start" font-weight="normal" font-style="normal" fill="#111" stroke="#111" stroke-width="0.3" textLength="21.1" lengthAdjust="spacingAndGlyphs">IDH2</text>
<text x="252.3" y="713.8" font-size="10.3" text-anchor="start" font-weight="normal" font-style="normal" fill="#111" stroke="#111" stroke-width="0.3" textLength="40.8" lengthAdjust="spacingAndGlyphs">DNMT3A</text>
<text x="270.5" y="756.6" font-size="10.3" text-anchor="start" font-weight="normal" font-style="normal" fill="#111" stroke="#111" stroke-width="0.3" textLength="21" lengthAdjust="spacingAndGlyphs">TP53</text>
<text x="232" y="806.2" font-size="10.3" text-anchor="start" font-weight="normal" font-style="normal" fill="#111" stroke="#111" stroke-width="0.3" textLength="20.6" lengthAdjust="spacingAndGlyphs">IDH1</text>
<text x="103.4" y="839.2" font-size="10.3" text-anchor="start" font-weight="normal" font-style="normal" fill="#111" stroke="#111" stroke-width="0.3" textLength="27.1" lengthAdjust="spacingAndGlyphs">SRSF2</text>
<text x="216.6" y="854.6" font-size="10.3" text-anchor="start" font-weight="normal" font-style="normal" fill="#111" stroke="#111" stroke-width="0.3" textLength="29.6" lengthAdjust="spacingAndGlyphs">STAG2</text>
<text x="196.2" y="898" font-size="10.3" text-anchor="start" font-weight="normal" font-style="normal" fill="#111" stroke="#111" stroke-width="0.3" textLength="30.3" lengthAdjust="spacingAndGlyphs">RUNX1</text>
<text x="353.1" y="941.9" font-size="10.3" text-anchor="start" font-weight="normal" font-style="normal" fill="#111" stroke="#111" stroke-width="0.3" textLength="27.9" lengthAdjust="spacingAndGlyphs">ASXL1</text>
<text x="229.4" y="987.7" font-size="10.3" text-anchor="start" font-weight="normal" font-style="normal" fill="#111" stroke="#111" stroke-width="0.3" textLength="26" lengthAdjust="spacingAndGlyphs">BCOR</text>
<line x1="63" y1="723.8" x2="63" y2="1011.5" stroke="#000" stroke-width="1.6"/>
<line x1="58.2" y1="1010.8" x2="417.5" y2="1010.8" stroke="#000" stroke-width="1.6"/>
<text x="74.3" y="1001.7" font-size="10.0" text-anchor="start" font-weight="normal" font-style="italic" fill="#231f20" stroke="#231f20" stroke-width="0.3" textLength="68" lengthAdjust="spacingAndGlyphs">Pearson = -0.67</text>
<text x="161.0" y="1046.3" font-size="13.2" fill="#231f20" stroke="#231f20" stroke-width="0.35" textLength="159.2" lengthAdjust="spacingAndGlyphs">Hazard ratio for EFS (GO <tspan font-style="italic">vs</tspan> non-GO)</text>
<text transform="translate(21.6,867.0) rotate(-90)" x="0" y="0" font-size="13.6" text-anchor="middle" fill="#231f20" stroke="#231f20" stroke-width="0.3" textLength="144.3" lengthAdjust="spacingAndGlyphs">%CD33 positive blasts (median)</text>
<ellipse cx="468.75" cy="728.1" rx="29.3" ry="27.4" fill="none" stroke="#1e3c82" stroke-width="1.5"/>
<ellipse cx="468.75" cy="804" rx="40.1" ry="37.8" fill="none" stroke="#1e3c82" stroke-width="1.5"/>
<text x="468.75" y="731.0" font-size="10.3" text-anchor="middle" font-weight="normal" font-style="normal" fill="#231f20" stroke="#231f20" stroke-width="0.3" textLength="25" lengthAdjust="spacingAndGlyphs">N=25</text>
<text x="468.75" y="807.0" font-size="10.3" text-anchor="middle" font-weight="normal" font-style="normal" fill="#231f20" stroke="#231f20" stroke-width="0.3" textLength="25" lengthAdjust="spacingAndGlyphs">N=50</text>
<rect x="429.3" y="862.3" width="18.5" height="10.9" fill="#294a85"/>
<text x="452.7" y="871.6" font-size="10.0" text-anchor="start" font-weight="normal" font-style="normal" fill="#231f20" stroke="#231f20" stroke-width="0.3" textLength="26.3" lengthAdjust="spacingAndGlyphs">NPM1</text>
<rect x="429.3" y="881.8" width="18.5" height="10.9" fill="#a3032e"/>
<text x="452.7" y="891.2" font-size="10.0" text-anchor="start" font-weight="normal" font-style="normal" fill="#231f20" stroke="#231f20" stroke-width="0.3" textLength="39.5" lengthAdjust="spacingAndGlyphs">Signaling</text>
<rect x="429.3" y="901.4" width="18.5" height="10.9" fill="#e08b1a"/>
<text x="452.7" y="910.7" font-size="10.0" text-anchor="start" font-weight="normal" font-style="normal" fill="#231f20" stroke="#231f20" stroke-width="0.3" textLength="55.4" lengthAdjust="spacingAndGlyphs">Transcription</text>
<rect x="429.3" y="921.1" width="18.5" height="10.9" fill="#b0bd8b"/>
<text x="452.7" y="930.1" font-size="10.0" text-anchor="start" font-weight="normal" font-style="normal" fill="#231f20" stroke="#231f20" stroke-width="0.3" textLength="51.6" lengthAdjust="spacingAndGlyphs">Methylation</text>
<rect x="429.3" y="941.1" width="18.5" height="10.9" fill="#c7077b"/>
<text x="452.7" y="950.1" font-size="10.0" text-anchor="start" font-weight="normal" font-style="normal" fill="#231f20" stroke="#231f20" stroke-width="0.3" textLength="45" lengthAdjust="spacingAndGlyphs">Chromatin</text>
<rect x="429.3" y="960.6" width="18.5" height="10.9" fill="#5ea845"/>
<text x="452.7" y="969.6" font-size="10.0" text-anchor="start" font-weight="normal" font-style="normal" fill="#231f20" stroke="#231f20" stroke-width="0.3" textLength="34.6" lengthAdjust="spacingAndGlyphs">Cohesin</text>
<rect x="429.3" y="980.3" width="18.5" height="10.9" fill="#ebbd22"/>
<text x="452.7" y="989.4000000000001" font-size="10.0" text-anchor="start" font-weight="normal" font-style="normal" fill="#231f20" stroke="#231f20" stroke-width="0.3" textLength="54.5" lengthAdjust="spacingAndGlyphs">Spliceosome</text>
<rect x="429.3" y="999.9" width="18.5" height="10.9" fill="#552463"/>
<text x="452.7" y="1008.9000000000001" font-size="10.0" text-anchor="start" font-weight="normal" font-style="normal" fill="#231f20" stroke="#231f20" stroke-width="0.3" textLength="47.9" lengthAdjust="spacingAndGlyphs">Suppressor</text>
<rect x="1" y="1" width="518" height="1058" fill="none" stroke="#000" stroke-width="2"/>
</svg>
</body></html>
